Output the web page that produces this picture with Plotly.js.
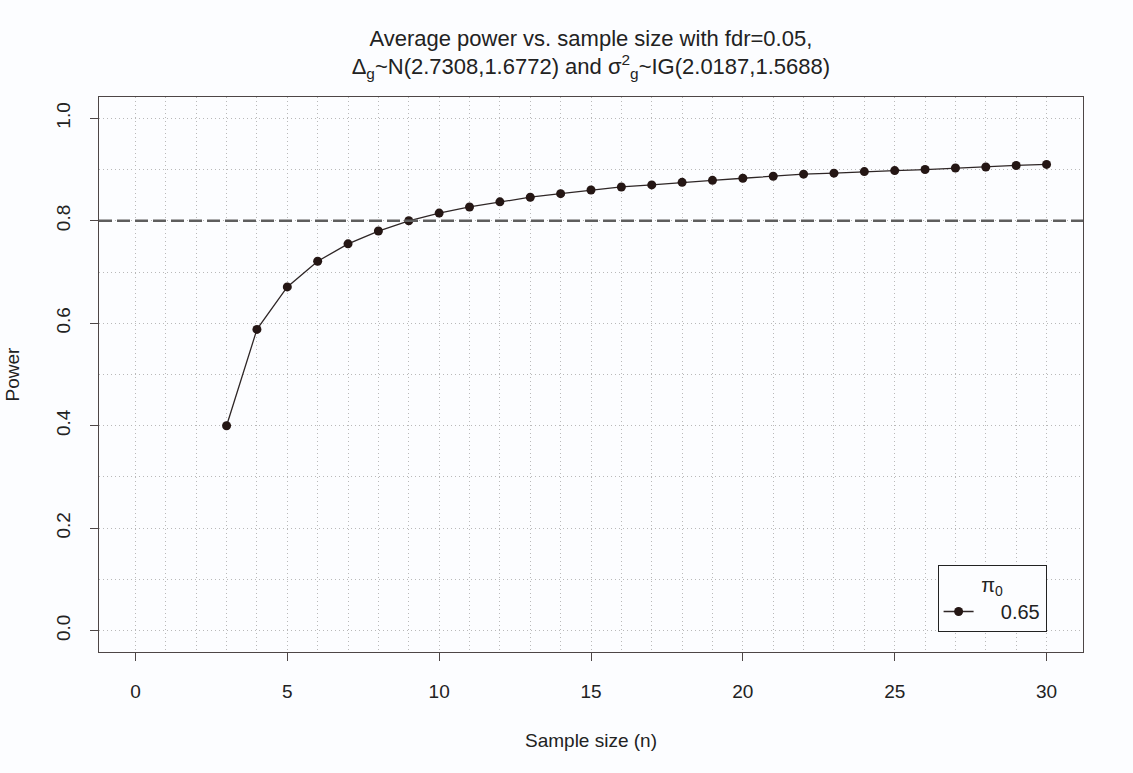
<!DOCTYPE html>
<html>
<head>
<meta charset="utf-8">
<script src="https://cdn.plot.ly/plotly-3.0.1.min.js"></script>
<style>html,body{margin:0;padding:0;background:#fcfdff;}#chart{width:1133px;height:773px;}</style>
</head>
<body>
<div id="chart"></div>
<script>
// Data
const sampleSize = [3,4,5,6,7,8,9,10,11,12,13,14,15,16,17,18,19,20,21,22,23,24,25,26,27,28,29,30];
const avgPower  = [0.400,0.588,0.671,0.721,0.755,0.780,0.800,0.815,0.827,0.837,0.846,0.853,0.860,0.866,0.870,0.875,0.879,0.883,0.887,0.891,0.893,0.896,0.898,0.900,0.903,0.905,0.908,0.910];
const seriesName = "0.65";
const legendTitle = "π<sub>0</sub>";
const targetPower = 0.8;
const xTickVals = [0,5,10,15,20,25,30];
const xMinorVals = [1,2,3,4,6,7,8,9,11,12,13,14,16,17,18,19,21,22,23,24,26,27,28,29];
const yTickVals = [0,0.2,0.4,0.6,0.8,1.0];
const yTickText = ["0.0","0.2","0.4","0.6","0.8","1.0"];
const yMinorVals = [0.1,0.3,0.5,0.7,0.9];

const fam = "Liberation Sans, Arial, sans-serif";
const txtCol = "#222";
const axisCol = "#4d4646";
const gridCol = "#b9b9b9";
const pad = "\u00a0\u00a0\u00a0\u00a0";

const trace = {
  x: sampleSize, y: avgPower, name: pad + seriesName,
  type: "scatter", mode: "lines+markers",
  line: {color: "#2e2626", width: 1.3},
  marker: {color: "#241614", size: 9, symbol: "circle"}
};

const layout = {
  width: 1133, height: 773,
  paper_bgcolor: "#fcfdff", plot_bgcolor: "#fcfdff",
  font: {family: fam, color: txtCol, size: 19},
  margin: {l: 99, r: 50, t: 97, b: 121},
  title: {
    text: "Average power vs. sample size with fdr=0.05,<br>Δ<sub>g</sub>~N(2.7308,1.6772) and σ<sup>2</sup><sub>g</sub>~IG(2.0187,1.5688)",
    font: {family: fam, size: 22, color: txtCol},
    x: 0.5215, xanchor: "center", yref: "container", y: 0.941, yanchor: "top"
  },
  xaxis: {
    range: [-1.2, 31.2], tickmode: "array", tickvals: xTickVals,
    tickfont: {family: fam, size: 19, color: txtCol},
    ticks: "outside", ticklen: 8, tickwidth: 1, tickcolor: axisCol,
    ticklabelstandoff: 14,
    showline: true, linecolor: axisCol, linewidth: 1, mirror: true,
    showgrid: true, gridcolor: gridCol, griddash: "1px,3px", gridwidth: 1,
    zeroline: false,
    minor: {tickmode: "array", tickvals: xMinorVals, showgrid: true, gridcolor: gridCol, griddash: "1px,3px", gridwidth: 1, ticks: ""},
    title: {text: "Sample size (n)", font: {family: fam, size: 19, color: txtCol}, standoff: 32}
  },
  yaxis: {
    range: [-0.0416, 1.0416], tickmode: "array", tickvals: yTickVals, ticktext: yTickText,
    tickangle: -90,
    tickfont: {family: fam, size: 19, color: txtCol},
    ticks: "outside", ticklen: 8, tickwidth: 1, tickcolor: axisCol,
    ticklabelstandoff: 12,
    showline: true, linecolor: axisCol, linewidth: 1, mirror: true,
    showgrid: true, gridcolor: gridCol, griddash: "1px,3px", gridwidth: 1,
    zeroline: false,
    minor: {tickmode: "array", tickvals: yMinorVals, showgrid: true, gridcolor: gridCol, griddash: "1px,3px", gridwidth: 1, ticks: ""},
    title: {text: "Power", font: {family: fam, size: 19, color: txtCol}, standoff: 28}
  },
  shapes: [{
    type: "line", xref: "paper", x0: 0, x1: 1, yref: "y", y0: targetPower, y1: targetPower,
    line: {color: "#5e5e5e", width: 2.5, dash: "13px,5px"}, layer: "above"
  }],
  showlegend: true,
  legend: {
    x: 0.963, xanchor: "right", y: 0.036, yanchor: "bottom",
    bgcolor: "#fcfdff", bordercolor: "#222", borderwidth: 1,
    font: {family: fam, size: 20, color: txtCol},
    title: {text: legendTitle, side: "top center", font: {family: fam, size: 20, color: txtCol}},
    itemclick: false
  }
};

Plotly.newPlot("chart", [trace], layout, {displayModeBar: false, staticPlot: true});
</script>
</body>
</html>
